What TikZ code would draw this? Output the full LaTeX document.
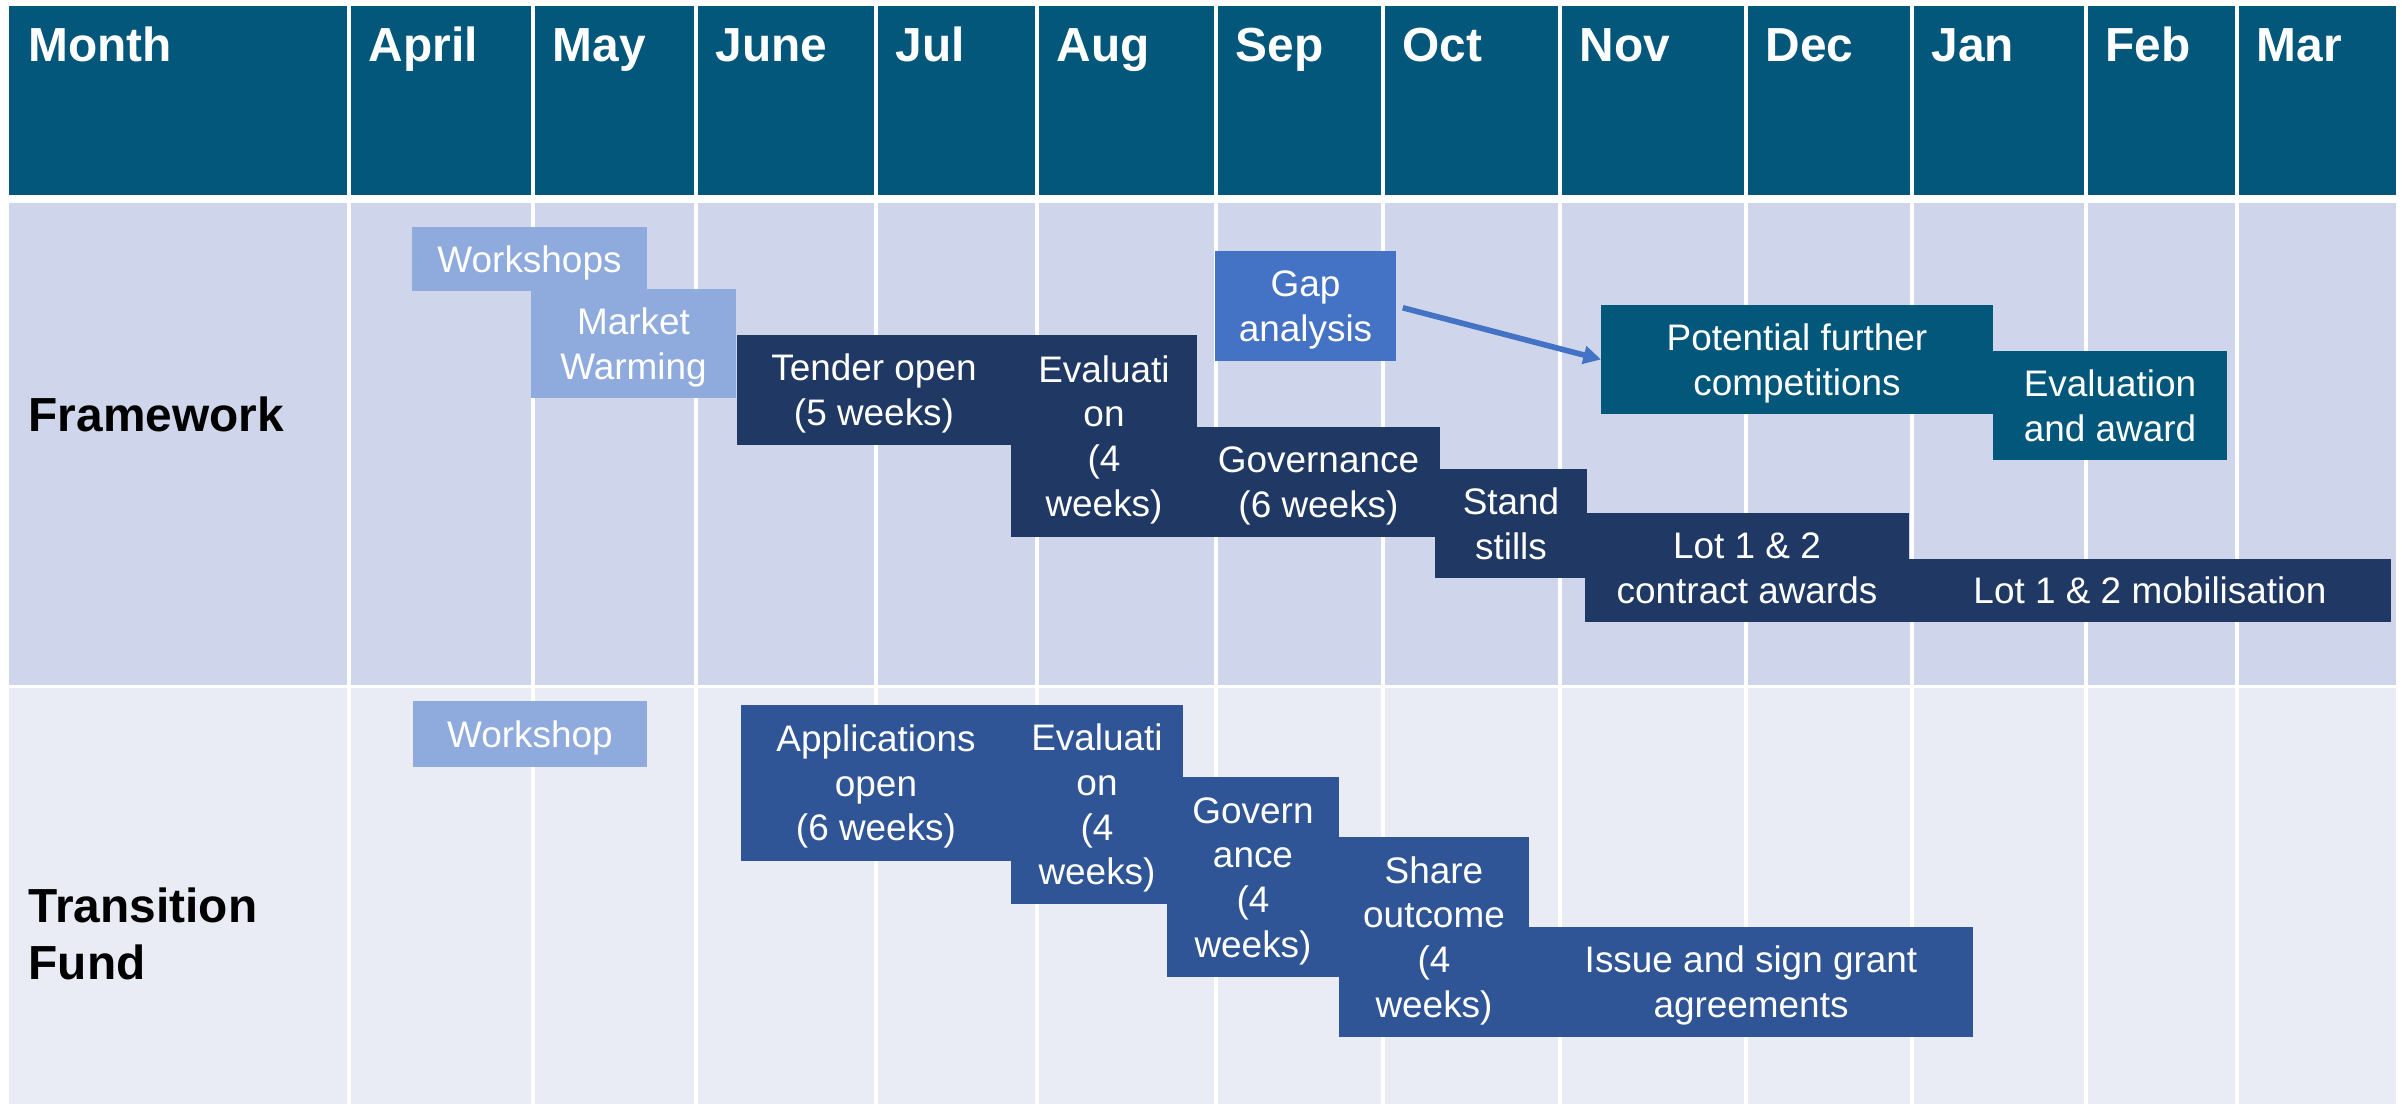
\documentclass[tikz,border=0pt]{standalone}
\usepackage{fontspec}
\setmainfont{Liberation Sans}
\usetikzlibrary{arrows.meta}
\definecolor{hdr}{HTML}{03577A}
\definecolor{navy}{HTML}{203864}
\definecolor{tfblue}{HTML}{2F5597}
\definecolor{lightb}{HTML}{8FAADC}
\definecolor{gapblue}{HTML}{4472C4}
\definecolor{rowa}{HTML}{CFD5EA}
\definecolor{rowb}{HTML}{E9EBF5}
\newcommand{\tfirst}[1]{\rule{0pt}{0.716em}\smash{#1}}
\newcommand{\tline}[1]{\smash{#1}}
\newcommand{\gb}[7]{\node[bx, fill=#6, minimum width={(#4-#2)*0.01cm}, minimum height={(#5-#3)*0.01cm}] (#1) at ({(#2+#4)/2},{(#3+#5)/2}) {#7};}
\begin{document}
\begin{tikzpicture}[x=0.01cm,y=-0.01cm,
  bx/.style={inner sep=0pt, outer sep=0pt, text=white, align=center, font=\fontsize{10.5}{12.7}\selectfont},
  hd/.style={inner sep=0pt, anchor=base west, text=white, font=\bfseries\fontsize{13.6}{16}\selectfont},
  rl/.style={inner sep=0pt, anchor=base west, text=black, font=\bfseries\fontsize{13.6}{16}\selectfont},
  conn/.style={draw=gapblue, line width=1.6pt, -{Triangle[length=5pt,width=5pt]}, shorten <=2pt},
  divider/.style={draw=white, line width=0.9pt}]
% canvas
\fill[white] (0,0) rectangle (2402,1104);
\useasboundingbox (0,0) rectangle (2402,1104);
% header and rows
\fill[hdr] (9,6) rectangle (2396,195);
\fill[rowa] (9,203) rectangle (2396,685);
\fill[rowb] (9,688) rectangle (2396,1104);
\foreach \x in {349,533,696,876,1037,1216,1383,1560,1746,1912,2086,2237}
  \draw[divider] (\x,6) -- (\x,1104);
% header labels
\node[hd] (m0) at (28,62) {Month};
\node[hd] (m1) at (368,62) {April};
\node[hd] (m2) at (552,62) {May};
\node[hd] (m3) at (715,62) {June};
\node[hd] (m4) at (895,62) {Jul};
\node[hd] (m5) at (1056,62) {Aug};
\node[hd] (m6) at (1235,62) {Sep};
\node[hd] (m7) at (1402,62) {Oct};
\node[hd] (m8) at (1579,62) {Nov};
\node[hd] (m9) at (1765,62) {Dec};
\node[hd] (m10) at (1931,62) {Jan};
\node[hd] (m11) at (2105,62) {Feb};
\node[hd] (m12) at (2256,62) {Mar};
% row labels
\node[rl] (fw) at (28,432) {Framework};
\node[rl] (tf1) at (28,923) {Transition};
\node[rl] (tf2) at (28,980) {Fund};
% framework boxes
\gb{ws}{412}{227}{647}{291}{lightb}{\tfirst{Workshops}}
\gb{mw}{531}{289}{736}{398}{lightb}{\tfirst{Market}\\\tline{Warming}}
\gb{to}{737}{335}{1011}{445}{navy}{\tfirst{Tender open}\\\tline{(5 weeks)}}
\gb{ev}{1011}{335}{1197}{537}{navy}{\tfirst{Evaluati}\\\tline{on}\\\tline{(4}\\\tline{weeks)}}
\gb{gov}{1197}{427}{1440}{537}{navy}{\tfirst{Governance}\\\tline{(6 weeks)}}
\gb{ss}{1435}{469}{1587}{578}{navy}{\tfirst{Stand}\\\tline{stills}}
\gb{lca}{1585}{513}{1909}{622}{navy}{\tfirst{Lot 1 \& 2}\\\tline{contract awards}}
\gb{lmb}{1909}{559}{2391}{622}{navy}{\tfirst{Lot 1 \& 2 mobilisation}}
\gb{gap}{1215}{251}{1396}{361}{gapblue}{\tfirst{Gap}\\\tline{analysis}}
\gb{pfc}{1601}{305}{1993}{414}{hdr}{\tfirst{Potential further}\\\tline{competitions}}
\gb{eaa}{1993}{351}{2227}{460}{hdr}{\tfirst{Evaluation}\\\tline{and award}}
\draw[conn] (gap.east) -- (pfc.west);
% transition fund boxes
\gb{tws}{413}{701}{647}{767}{lightb}{\tfirst{Workshop}}
\gb{app}{741}{705}{1011}{861}{tfblue}{\tfirst{Applications}\\\tline{open}\\\tline{(6 weeks)}}
\gb{tev}{1011}{705}{1183}{904}{tfblue}{\tfirst{Evaluati}\\\tline{on}\\\tline{(4}\\\tline{weeks)}}
\gb{tgov}{1167}{777}{1339}{977}{tfblue}{\tfirst{Govern}\\\tline{ance}\\\tline{(4}\\\tline{weeks)}}
\gb{sho}{1339}{837}{1529}{1037}{tfblue}{\tfirst{Share}\\\tline{outcome}\\\tline{(4}\\\tline{weeks)}}
\gb{isg}{1529}{927}{1973}{1037}{tfblue}{\tfirst{Issue and sign grant}\\\tline{agreements}}
\end{tikzpicture}
\end{document}
